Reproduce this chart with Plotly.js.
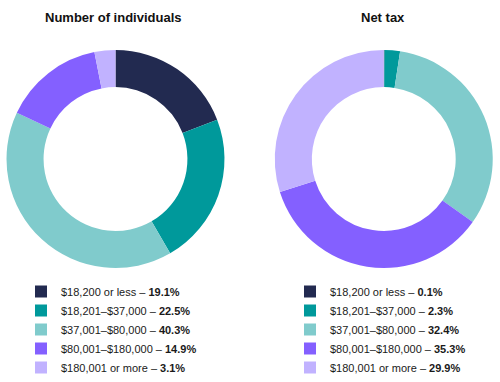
<!DOCTYPE html>
<html>
<head>
<meta charset="utf-8">
<script src="https://cdn.plot.ly/plotly-3.0.1.min.js"></script>
<style>html,body{margin:0;padding:0;background:#fff;}#chart{width:500px;height:382px;}</style>
</head>
<body>
<div id="chart"></div>
<script>
const categories = ["$18,200 or less", "$18,201\u2013$37,000", "$37,001\u2013$80,000", "$80,001\u2013$180,000", "$180,001 or more"];
const individuals = [19.1, 22.5, 40.3, 14.9, 3.1];
const netTax = [0.1, 2.3, 32.4, 35.3, 29.9];
const colors = ["#222a50", "#00999b", "#80cbcc", "#8460ff", "#c1b2ff"];
const titles = ["Number of individuals", "Net tax"];

function labelsFor(vals) {
  return categories.map((c, i) => c + " \u2013 <b>" + vals[i].toFixed(1) + "%</b>");
}

const common = {
  type: "pie",
  hole: 0.66,
  sort: false,
  direction: "clockwise",
  rotation: 0,
  textinfo: "none",
  hoverinfo: "label",
  marker: {colors: colors, line: {width: 0}}
};

const data = [
  Object.assign({}, common, {
    values: individuals, labels: labelsFor(individuals),
    domain: {x: [0.012, 0.45], y: [0.2984, 0.869]},
    legend: "legend"
  }),
  Object.assign({}, common, {
    values: netTax, labels: labelsFor(netTax),
    domain: {x: [0.549, 0.986], y: [0.2984, 0.869]},
    legend: "legend2"
  })
];

const legendBase = {
  font: {family: "Liberation Sans, Arial, sans-serif", size: 11, color: "#1a1a1a"},
  yanchor: "top", xanchor: "left", bgcolor: "rgba(0,0,0,0)",
  traceorder: "normal", itemclick: false, itemdoubleclick: false
};

const titleFont = {family: "Liberation Sans Narrow, Arial Narrow, Liberation Sans, sans-serif", size: 13, color: "#111"};

const layout = {
  width: 500, height: 382,
  margin: {l: 0, r: 0, t: 0, b: 0},
  paper_bgcolor: "#fff",
  showlegend: true,
  legend: Object.assign({}, legendBase, {x: 0.042, y: 0.274}),
  legend2: Object.assign({}, legendBase, {x: 0.58, y: 0.274}),
  annotations: [
    {text: "<b>" + titles[0] + "</b>", x: 0.226, y: 0.955, xref: "paper", yref: "paper",
     showarrow: false, xanchor: "center", yanchor: "middle", font: titleFont},
    {text: "<b>" + titles[1] + "</b>", x: 0.766, y: 0.955, xref: "paper", yref: "paper",
     showarrow: false, xanchor: "center", yanchor: "middle", font: titleFont}
  ]
};

Plotly.newPlot("chart", data, layout, {staticPlot: true, displayModeBar: false});
</script>
</body>
</html>
